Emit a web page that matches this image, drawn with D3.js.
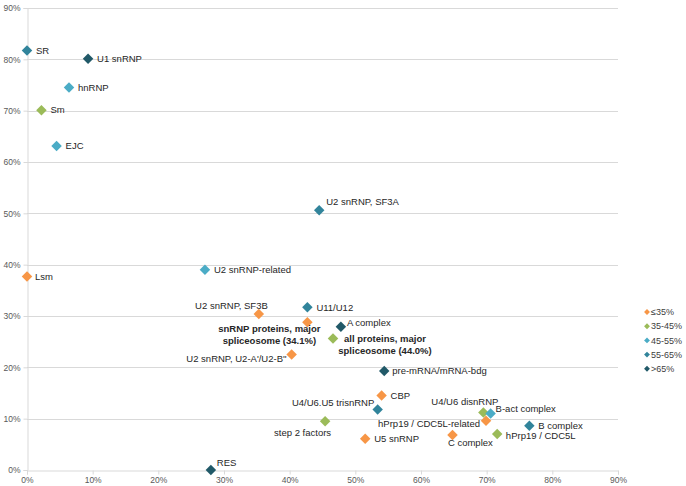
<!DOCTYPE html>
<html>
<head>
<meta charset="utf-8">
<script src="https://cdn.jsdelivr.net/npm/d3@7"></script>
<style>
  html, body { margin: 0; padding: 0; background: #fff; }
  svg { display: block; font-family: "Liberation Sans", Arial, sans-serif; }
</style>
</head>
<body>
<svg id="chart" width="686" height="486"></svg>
<script>
// ---- data ----
const names = ["SR", "U1 snRNP", "hnRNP", "Sm", "EJC", "Lsm", "U2 snRNP-related",
  "U2 snRNP, SF3A", "U2 snRNP, SF3B", "U11/U12", "snRNP proteins, major|spliceosome (34.1%)",
  "A complex", "all proteins, major|spliceosome (44.0%)", "U2 snRNP, U2-A'/U2-B''",
  "pre-mRNA/mRNA-bdg", "CBP", "U4/U6.U5 trisnRNP", "step 2 factors", "U5 snRNP",
  "C complex", "U4/U6 disnRNP", "B-act complex", "hPrp19 / CDC5L-related",
  "B complex", "hPrp19 / CDC5L", "RES"];
const xValues = [0.000, 0.093, 0.064, 0.022, 0.045, 0.000, 0.271,
  0.445, 0.353, 0.427, 0.427,
  0.478, 0.466, 0.403,
  0.544, 0.540, 0.534, 0.454, 0.515,
  0.648, 0.695, 0.706, 0.699,
  0.765, 0.716, 0.280];
const yValues = [0.817, 0.801, 0.745, 0.701, 0.631, 0.377, 0.390,
  0.506, 0.304, 0.317, 0.288,
  0.279, 0.256, 0.225,
  0.193, 0.145, 0.118, 0.095, 0.061,
  0.068, 0.112, 0.110, 0.096,
  0.086, 0.070, 0.000];
// category index into legendLabels
const groups = [3, 4, 2, 1, 2, 0, 2,
  3, 0, 3, 0,
  4, 1, 0,
  4, 0, 3, 1, 0,
  0, 1, 2, 0,
  3, 1, 4];
const legendLabels = ["\u226435%", "35-45%", "45-55%", "55-65%", ">65%"];
const tickValues = [0, 0.1, 0.2, 0.3, 0.4, 0.5, 0.6, 0.7, 0.8, 0.9];

// ---- styles / layout ----
const colors = ["#F79646", "#9BBB59", "#4BACC6", "#31849B", "#215968"];
// label placement: [dx, dy, anchor, bold]
const labelPos = {
  "SR": [9, 0, "start"], "U1 snRNP": [9, 0, "start"], "hnRNP": [9, 0, "start"],
  "Sm": [9, 0, "start"], "EJC": [9, 0, "start"], "Lsm": [8, 0, "start"],
  "U2 snRNP-related": [9, 0, "start"], "U2 snRNP, SF3A": [7, -8.5, "start"],
  "U2 snRNP, SF3B": [9, -8.3, "end"], "U11/U12": [9, 0, "start"],
  "snRNP proteins, major|spliceosome (34.1%)": [-38, 6.7, "middle", true],
  "A complex": [6, -3.7, "start"],
  "all proteins, major|spliceosome (44.0%)": [52, 0.5, "middle", true],
  "U2 snRNP, U2-A'/U2-B''": [-5, 4, "end"],
  "pre-mRNA/mRNA-bdg": [8, 0, "start"], "CBP": [9, 0, "start"],
  "U4/U6.U5 trisnRNP": [-3.4, -7, "end"], "step 2 factors": [6, 11, "end"],
  "U5 snRNP": [9, 0, "start"], "C complex": [-4.6, 7.3, "start"],
  "U4/U6 disnRNP": [15, -10.6, "end"], "B-act complex": [5, -5, "start"],
  "hPrp19 / CDC5L-related": [-6, 3.3, "end"], "B complex": [9, 0, "start"],
  "hPrp19 / CDC5L": [8.7, 1.2, "start"], "RES": [6, -7.3, "start"]
};

const svg = d3.select("#chart");
const x = d3.scaleLinear().domain([0, 0.9]).range([27, 618]);
const y = d3.scaleLinear().domain([0, 0.9]).range([470, 8]);
const fmt = d3.format(".0%");

// gridlines
svg.append("g").selectAll("line")
  .data(tickValues.filter(d => d > 0))
  .join("line")
  .attr("x1", x(0)).attr("x2", x(0.9))
  .attr("y1", d => Math.round(y(d)) + 0.5).attr("y2", d => Math.round(y(d)) + 0.5)
  .attr("stroke", "#D9D9D9").attr("stroke-width", 1);

// axes
const xAxis = svg.append("g")
  .attr("transform", `translate(0,${Math.round(y(0)) + 0.5})`)
  .call(d3.axisBottom(x).tickValues(tickValues).tickFormat(fmt).tickSizeOuter(0).tickSize(4).tickPadding(2));
const yAxis = svg.append("g")
  .attr("transform", `translate(${Math.round(x(0)) + 0.5},0)`)
  .call(d3.axisLeft(y).tickValues(tickValues).tickFormat(fmt).tickSizeOuter(0).tickSize(4).tickPadding(3));
[xAxis, yAxis].forEach(g => {
  g.select(".domain").attr("stroke", "#D9D9D9");
  g.selectAll(".tick line").attr("stroke", "#D9D9D9");
  g.selectAll(".tick text").attr("fill", "#595959").style("font-size", "8.5px")
    .style("font-family", "'Liberation Sans', Arial, sans-serif");
});

// markers
const pts = names.map((n, i) => ({ name: n, x: xValues[i], y: yValues[i], g: groups[i] }));
const diamond = d3.symbol().type(d3.symbolDiamond2).size(70);
svg.append("g").selectAll("path")
  .data(pts).join("path")
  .attr("d", diamond)
  .attr("transform", d => `translate(${x(d.x)},${y(d.y)})`)
  .attr("fill", d => colors[d.g]);

// labels
const lab = svg.append("g").style("font-size", "9.5px").attr("fill", "#262626");
pts.forEach(d => {
  const p = labelPos[d.name];
  const lines = d.name.split("|");
  const t = lab.append("text")
    .attr("x", x(d.x) + p[0])
    .attr("y", y(d.y) + p[1])
    .attr("text-anchor", p[2])
    .style("font-weight", p[3] ? "bold" : "normal");
  lines.forEach((ln, k) => {
    t.append("tspan")
      .attr("x", x(d.x) + p[0])
      .attr("dy", k === 0 ? "0.35em" : "1.2em")
      .text(ln);
  });
});

// legend
const leg = svg.append("g").attr("transform", "translate(647,312)");
const legSym = d3.symbol().type(d3.symbolDiamond2).size(22);
legendLabels.forEach((l, i) => {
  const g = leg.append("g").attr("transform", `translate(0,${i * 14.2})`);
  g.append("path").attr("d", legSym).attr("fill", colors[i]);
  g.append("text").attr("x", 4).attr("dy", "0.35em")
    .style("font-size", "9px").attr("fill", "#404040").text(l);
});
</script>
</body>
</html>
